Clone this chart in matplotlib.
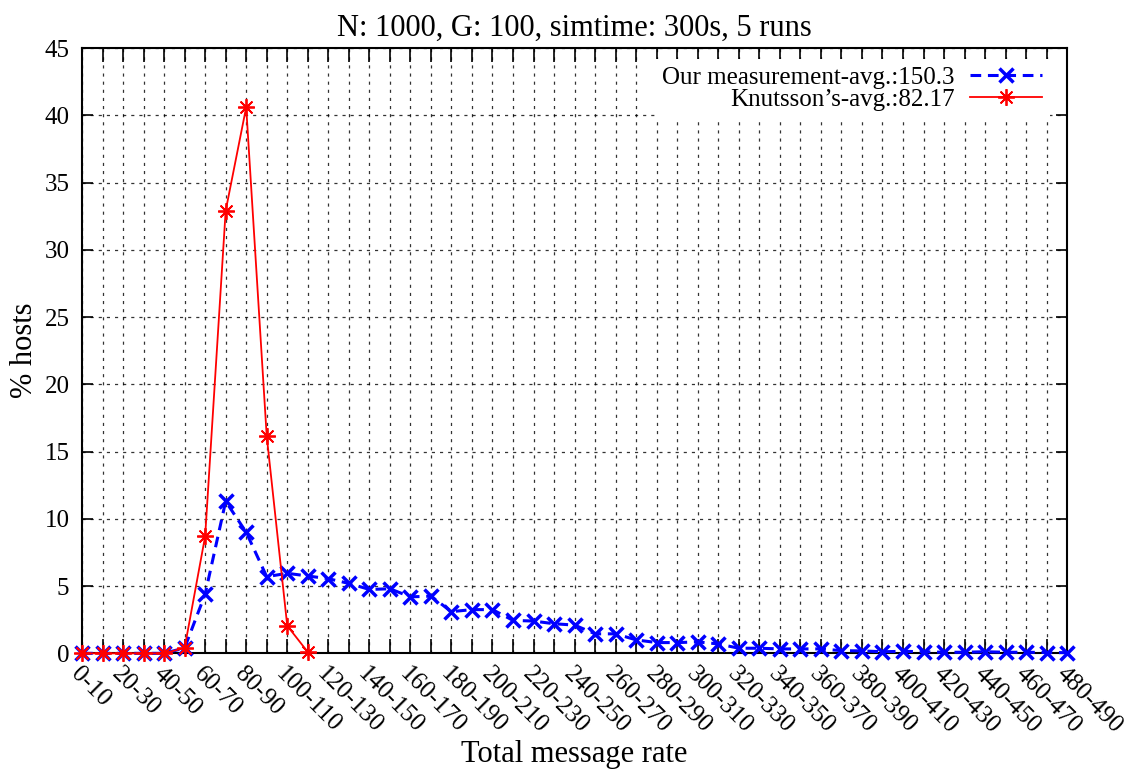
import matplotlib
matplotlib.use("Agg")
import matplotlib.pyplot as plt
import numpy as np

categories = [f"{a}-{a+10}" for a in range(0, 490, 10)]

ours = [0, 0, 0, 0, 0, 0.4, 4.4, 11.3, 9.0, 5.7, 5.95, 5.75, 5.55, 5.2, 4.75,
        4.8, 4.2, 4.25, 3.1, 3.25, 3.25, 2.45, 2.4, 2.2, 2.1, 1.45, 1.45, 1.0,
        0.8, 0.8, 0.85, 0.7, 0.38, 0.38, 0.33, 0.33, 0.33, 0.2, 0.18, 0.12,
        0.15, 0.12, 0.08, 0.08, 0.12, 0.08, 0.08, 0.06, 0.05]
knutsson = [0, 0, 0, 0, 0, 0.4, 8.7, 32.9, 40.6, 16.15, 2.05, 0.1]

ours_label = "Our measurement-avg.:150.3"
knut_label = "Knutsson\u2019s-avg.:82.17"
title = "N: 1000, G: 100, simtime: 300s, 5 runs"

plt.rcParams['font.family'] = ['Liberation Serif', 'DejaVu Serif']

fig = plt.figure(figsize=(11.34, 7.72), dpi=100)
ax = fig.add_axes([0.0723, 0.1537, 0.8688, 0.7841])

x = np.arange(len(categories))
ax.plot(x, ours, color='#0000ff', linestyle=(0, (3.5, 2.2)), linewidth=2.2,
        marker='x', markersize=10, markeredgewidth=2.5, label=ours_label,
        zorder=3, clip_on=False)
ax.plot(np.arange(len(knutsson)), knutsson, color='#ff0000', linestyle='-',
        linewidth=1.3, marker=(8, 2, 0), markersize=12, markeredgewidth=1.3,
        label=knut_label, zorder=4, clip_on=False)

ax.set_xlim(0, len(categories) - 1)
ax.set_ylim(0, 45)
ax.set_yticks(np.arange(0, 46, 5))
ax.set_xticks(x)
ax.set_xticklabels([c if i % 2 == 0 else "" for i, c in enumerate(categories)],
                   rotation=-45, ha='left', va='top', rotation_mode='anchor',
                   fontsize=18)
ax.tick_params(axis='x', direction='in', length=10, width=1.2, top=True,
               pad=7)
ax.tick_params(axis='y', direction='in', length=8, width=1.2, right=True,
               labelsize=18, pad=9)

ax.grid(True, color='black', linestyle=(0, (2.5, 4)), linewidth=0.9, alpha=0.8)
for s in ax.spines.values():
    s.set_linewidth(1.5)

ax.set_title(title, fontsize=22, pad=9)
ax.set_xlabel("Total message rate", fontsize=22, labelpad=2)
ax.set_ylabel("% hosts", fontsize=22, labelpad=4)

leg = ax.legend(loc='upper right', bbox_to_anchor=(0.99, 0.995), frameon=True,
                facecolor='white', edgecolor='none', framealpha=1.0,
                fancybox=False, markerfirst=False, fontsize=18,
                handlelength=2.9, borderaxespad=0.3, labelspacing=0.0,
                handletextpad=0.6, borderpad=0.3)

fig.savefig("out.png", dpi=100)
